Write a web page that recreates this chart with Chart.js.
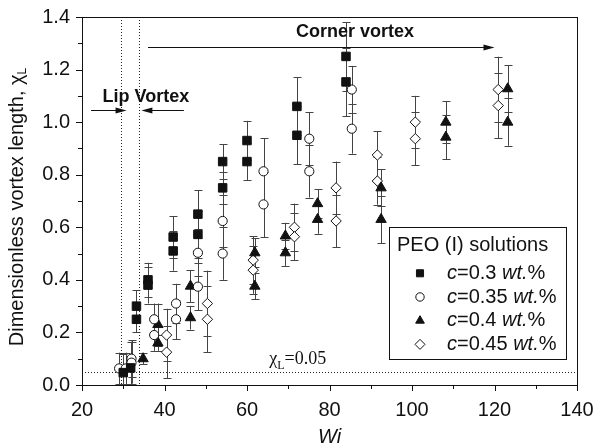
<!DOCTYPE html>
<html><head><meta charset="utf-8">
<script src="https://cdn.jsdelivr.net/npm/chart.js@4.4.0/dist/chart.umd.min.js"></script>
<style>html,body{margin:0;padding:0;background:#fff}#wrap{width:597px;height:446px}</style>
</head><body><div id="wrap"><canvas id="c" width="597" height="446"></canvas></div>
<script>
// ---- data ----
const seriesNames = ['c=0.3 wt.%', 'c=0.35 wt.%', 'c=0.4 wt.%', 'c=0.45 wt.%'];
const wi_03  = [30, 31.8, 33.2, 33.2, 36, 36, 42.1, 42.1, 48.1, 48.1, 54.1, 54.1, 60, 60, 72.1, 72.1, 84, 84];
const chi_03 = [0.047, 0.065, 0.30, 0.25, 0.40, 0.38, 0.563, 0.51, 0.65, 0.573, 0.85, 0.75, 0.93, 0.85, 1.06, 0.95, 1.25, 1.153];
const err_03 = [0.07, 0.10, 0.06, 0.05, 0.065, 0.07, 0.08, 0.075, 0.09, 0.09, 0.065, 0.06, 0.075, 0.07, 0.11, 0.11, 0.13, 0.13];

const wi_035  = [29, 30.6, 32, 32, 37.5, 37.5, 42.8, 42.8, 48.1, 48.1, 54.1, 54.1, 64, 64, 75.1, 75.1, 85.4, 85.4];
const chi_035 = [0.063, 0.063, 0.10, 0.085, 0.25, 0.19, 0.31, 0.25, 0.503, 0.374, 0.624, 0.50, 0.813, 0.687, 0.937, 0.813, 1.124, 0.975];
const err_035 = [0.06, 0.06, 0.07, 0.08, 0.06, 0.06, 0.075, 0.075, 0.09, 0.09, 0.1, 0.1, 0.125, 0.125, 0.1, 0.1, 0.09, 0.095];

const wi_04  = [34.8, 38.4, 38.4, 46.3, 46.3, 61.9, 61.9, 69.3, 69.3, 77.1, 77.1, 92.5, 92.5, 108.2, 108.2, 123.2, 123.2];
const chi_04 = [0.10, 0.23, 0.16, 0.376, 0.256, 0.503, 0.376, 0.567, 0.503, 0.69, 0.63, 0.75, 0.63, 1.0, 0.943, 1.127, 1.0];
const err_04 = [0.02, 0.08, 0.03, 0.06, 0.045, 0.055, 0.05, 0.05, 0.05, 0.055, 0.055, 0.07, 0.09, 0.08, 0.085, 0.09, 0.09];

const wi_045  = [40.5, 40.5, 50.4, 50.4, 61.5, 61.5, 71.5, 71.5, 81.6, 81.6, 91.6, 91.6, 100.8, 100.8, 120.9, 120.9];
const chi_045 = [0.19, 0.125, 0.31, 0.25, 0.475, 0.437, 0.60, 0.564, 0.75, 0.624, 0.875, 0.776, 1.0, 0.937, 1.124, 1.063];
const err_045 = [0.1, 0.1, 0.125, 0.125, 0.09, 0.09, 0.09, 0.09, 0.1, 0.1, 0.09, 0.09, 0.1, 0.1, 0.125, 0.125];

const xTickLabels = ['20', '40', '60', '80', '100', '120', '140'];
const yTickLabels = ['0.0', '0.2', '0.4', '0.6', '0.8', '1.0', '1.2', '1.4'];

// annotation positions in data units
const lipLines = [29.5, 33.7];
const chiThreshold = 0.05;

const pts = (xs, ys) => xs.map((x, i) => ({x, y: ys[i]}));
const FONT = '"Liberation Sans", Arial, sans-serif';
const SERIF = '"Liberation Serif", "Times New Roman", serif';

const styles = [
  {pointStyle: 'rect', radius: 6, bg: '#111', border: '#111'},
  {pointStyle: 'circle', radius: 4.6, bg: '#fff', border: '#111'},
  {pointStyle: 'triangle', radius: 6, bg: '#111', border: '#111'},
  {pointStyle: 'rectRot', radius: 5.2, bg: '#fff', border: '#111'}
];
const allX = [wi_03, wi_035, wi_04, wi_045];
const allY = [chi_03, chi_035, chi_04, chi_045];
const allE = [err_03, err_035, err_04, err_045];

const datasets = allX.map((xs, k) => ({
  label: seriesNames[k],
  data: pts(xs, allY[k]),
  errors: allE[k],
  showLine: false,
  pointStyle: styles[k].pointStyle,
  pointRadius: styles[k].radius,
  pointHoverRadius: styles[k].radius,
  pointBackgroundColor: styles[k].bg,
  pointBorderColor: styles[k].border,
  pointBorderWidth: 1
}));

function arrow(ctx, x1, x2, y) {
  const dir = Math.sign(x2 - x1);
  ctx.beginPath(); ctx.moveTo(x1, y); ctx.lineTo(x2 - dir * 8, y); ctx.stroke();
  ctx.beginPath(); ctx.moveTo(x2, y); ctx.lineTo(x2 - dir * 11, y - 3); ctx.lineTo(x2 - dir * 11, y + 3); ctx.closePath(); ctx.fill();
}

const errPlugin = {
  id: 'errs',
  beforeDatasetsDraw(chart) {
    const {ctx, scales: {x, y}} = chart;
    ctx.save();
    ctx.strokeStyle = '#444'; ctx.lineWidth = 1;
    chart.data.datasets.forEach(ds => {
      ds.data.forEach((p, i) => {
        const e = ds.errors[i];
        const px = Math.round(x.getPixelForValue(p.x)) + 0.5;
        const yt = y.getPixelForValue(p.y + e), yb = y.getPixelForValue(Math.max(0, p.y - e));
        ctx.beginPath();
        ctx.moveTo(px, yt); ctx.lineTo(px, yb);
        ctx.moveTo(px - 4, Math.round(yt) + 0.5); ctx.lineTo(px + 4, Math.round(yt) + 0.5);
        if (p.y - e > 0) { ctx.moveTo(px - 4, Math.round(yb) + 0.5); ctx.lineTo(px + 4, Math.round(yb) + 0.5); }
        ctx.stroke();
      });
    });
    ctx.restore();
  }
};

const decoPlugin = {
  id: 'deco',
  beforeDatasetsDraw(chart) {
    const {ctx, chartArea: a, scales: {x, y}} = chart;
    ctx.save();
    ctx.strokeStyle = '#222'; ctx.lineWidth = 1; ctx.setLineDash([1, 2]);
    lipLines.forEach(v => {
      const px = Math.round(x.getPixelForValue(v)) + 0.5;
      ctx.beginPath(); ctx.moveTo(px, a.top); ctx.lineTo(px, a.bottom); ctx.stroke();
    });
    const hy = Math.round(y.getPixelForValue(chiThreshold)) + 0.5;
    ctx.beginPath(); ctx.moveTo(a.left, hy); ctx.lineTo(a.right, hy); ctx.stroke();
    ctx.setLineDash([]);
    // arrows
    ctx.fillStyle = '#111'; ctx.strokeStyle = '#111';
    const ya = Math.round(y.getPixelForValue(1.287)) + 0.5;
    arrow(ctx, x.getPixelForValue(36), x.getPixelForValue(120), ya);
    const yl = Math.round(y.getPixelForValue(1.046)) + 0.5;
    arrow(ctx, x.getPixelForValue(22.2), x.getPixelForValue(30.8), yl);
    arrow(ctx, x.getPixelForValue(44.7), x.getPixelForValue(34.4), yl);
    // texts
    ctx.font = 'bold 18px ' + FONT; ctx.textAlign = 'center'; ctx.textBaseline = 'middle';
    ctx.fillText('Corner vortex', x.getPixelForValue(86.2), y.getPixelForValue(1.343));
    ctx.fillText('Lip Vortex', x.getPixelForValue(35.5), y.getPixelForValue(1.095));
    // chi label
    ctx.textAlign = 'left'; ctx.textBaseline = 'alphabetic';
    let tx = x.getPixelForValue(65.4); const ty = y.getPixelForValue(0.08);
    ctx.font = '18px ' + SERIF;
    ctx.fillText('χ', tx, ty); tx += ctx.measureText('χ').width;
    ctx.font = '12px ' + SERIF;
    ctx.fillText('L', tx, ty + 5); tx += ctx.measureText('L').width;
    ctx.font = '18px ' + SERIF;
    ctx.fillText('=0.05', tx, ty);
    ctx.restore();
  },
  afterDraw(chart) {
    const {ctx, chartArea: a, scales: {x, y}} = chart;
    ctx.save();
    ctx.strokeStyle = '#111'; ctx.lineWidth = 1;
    // frame
    ctx.strokeRect(Math.round(a.left) + 0.5, Math.round(a.top) + 0.5, Math.round(a.right - a.left), Math.round(a.bottom - a.top));
    // ticks
    x.ticks.forEach((t, i) => {
      const px = Math.round(x.getPixelForValue(t.value)) + 0.5; const len = i % 2 === 0 ? 6 : 4;
      ctx.beginPath(); ctx.moveTo(px, a.bottom); ctx.lineTo(px, a.bottom + len); ctx.stroke();
    });
    y.ticks.forEach((t, i) => {
      const py = Math.round(y.getPixelForValue(t.value)) + 0.5; const len = i % 2 === 0 ? 6 : 4;
      ctx.beginPath(); ctx.moveTo(a.left, py); ctx.lineTo(a.left - len, py); ctx.stroke();
    });
    // axis titles
    ctx.fillStyle = '#111';
    ctx.textAlign = 'center'; ctx.textBaseline = 'middle';
    ctx.font = 'italic 20px ' + FONT;
    ctx.fillText('Wi', (a.left + a.right) / 2, a.bottom + 52);
    ctx.save();
    ctx.translate(17, (a.top + a.bottom) / 2 + 6);
    ctx.rotate(-Math.PI / 2);
    ctx.font = '20px ' + FONT;
    const main = 'Dimensionless vortex length, ', chi = 'χ', sub = 'L';
    const wMain = ctx.measureText(main).width, wChi = ctx.measureText(chi).width;
    ctx.font = '12px ' + FONT;
    const wSub = ctx.measureText(sub).width;
    let sx = -(wMain + wChi + wSub) / 2;
    ctx.textAlign = 'left'; ctx.textBaseline = 'middle';
    ctx.font = '20px ' + FONT;
    ctx.fillText(main, sx, 0); sx += wMain;
    ctx.fillText(chi, sx, 0); sx += wChi;
    ctx.font = '12px ' + FONT;
    ctx.fillText(sub, sx, 6);
    ctx.restore();
    // legend
    const L = a.right - 188, T = y.getPixelForValue(0.6), R = a.right - 11, B = y.getPixelForValue(0.098);
    ctx.fillStyle = '#fff';
    ctx.fillRect(L, T, R - L, B - T);
    ctx.strokeRect(Math.round(L) + 0.5, Math.round(T) + 0.5, Math.round(R - L), Math.round(B - T));
    ctx.fillStyle = '#111'; ctx.textBaseline = 'middle'; ctx.textAlign = 'left';
    ctx.font = '20px ' + FONT;
    ctx.fillText('PEO (I) solutions', L + 8, T + 18);
    chart.data.datasets.forEach((ds, k) => {
      const cy = T + 46 + k * 23.7;
      const st = styles[k];
      ctx.fillStyle = st.bg; ctx.strokeStyle = st.border; ctx.lineWidth = 1;
      const r = k === 1 ? 4.2 : 5;
      Chart.helpers.drawPoint(ctx, {pointStyle: st.pointStyle, radius: r, borderWidth: 1}, L + 31, cy);
      ctx.fillStyle = '#111';
      let tx = L + 58;
      const parts = ds.label.match(/^(c)(=[\d.]+ )(wt\.)(%)$/);
      const segs = [[parts[1], 'italic'], [parts[2], ''], [parts[3], 'italic'], [parts[4], '']];
      segs.forEach(([s, st2]) => {
        ctx.font = (st2 ? st2 + ' ' : '') + '20px ' + FONT;
        ctx.fillText(s, tx, cy); tx += ctx.measureText(s).width;
      });
    });
    ctx.restore();
  }
};

new Chart(document.getElementById('c'), {
  type: 'scatter',
  data: {datasets},
  options: {
    responsive: false, animation: false,
    layout: {padding: {left: 0, top: 17, right: 20, bottom: 0}},
    plugins: {legend: {display: false}, tooltip: {enabled: false}},
    scales: {
      x: {
        min: 20, max: 140,
        grid: {display: false, drawTicks: false},
        border: {display: false},
        ticks: {stepSize: 10, color: '#111', padding: 13, maxRotation: 0, autoSkip: false,
          font: {family: FONT, size: 20},
          callback: (v) => { const s = String(v); return xTickLabels.includes(s) ? s : ''; }},
        title: {display: false},
        afterFit: (s) => { s.height = 61; s.paddingLeft = 0; s.paddingRight = 0; }
      },
      y: {
        min: 0, max: 1.4,
        grid: {display: false, drawTicks: false},
        border: {display: false},
        ticks: {stepSize: 0.1, color: '#111', padding: 12, autoSkip: false,
          font: {family: FONT, size: 20},
          callback: (v) => { const s = Number(v).toFixed(1); return yTickLabels.includes(s) ? s : ''; }},
        title: {display: false},
        afterFit: (s) => { s.width = 82; s.paddingTop = 0; s.paddingBottom = 0; }
      }
    }
  },
  plugins: [errPlugin, decoPlugin]
});
</script>
</body></html>
